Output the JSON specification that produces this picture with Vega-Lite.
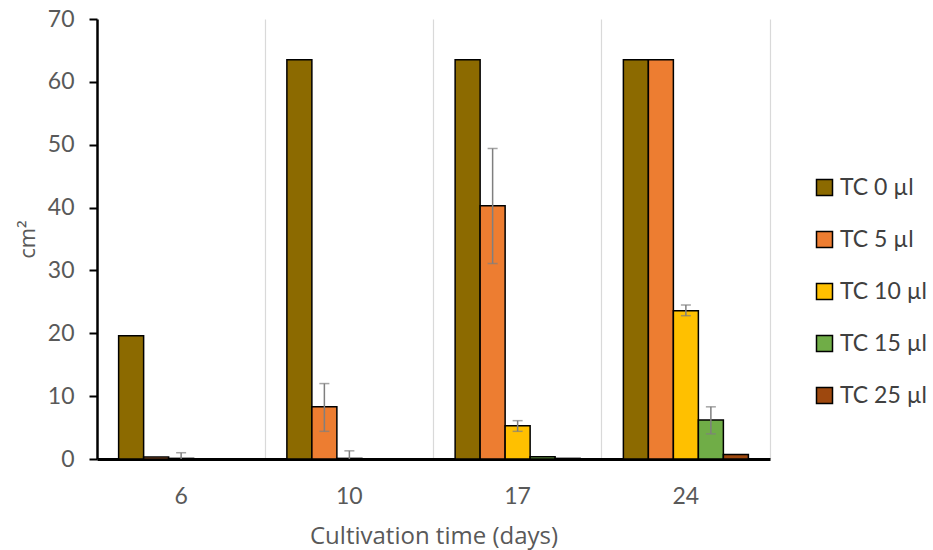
{
  "$schema": "https://vega.github.io/schema/vega-lite/v6.json",
  "width": 673,
  "height": 440,
  "autosize": {"type": "none"},
  "padding": {"left": 97, "top": 19, "right": 163, "bottom": 91},
  "background": "white",
  "config": {
    "view": {"stroke": null},
    "font": "Lato"
  },
  "data": {
    "values": [
      {"day": "6", "series": "TC 0 µl", "value": 19.6},
      {"day": "6", "series": "TC 5 µl", "value": 0.3},
      {"day": "6", "series": "TC 10 µl", "value": 0.1, "lo": 0, "hi": 1.0},
      {"day": "6", "series": "TC 15 µl", "value": 0},
      {"day": "6", "series": "TC 25 µl", "value": 0},
      {"day": "10", "series": "TC 0 µl", "value": 63.5},
      {"day": "10", "series": "TC 5 µl", "value": 8.3, "lo": 4.4, "hi": 12.0},
      {"day": "10", "series": "TC 10 µl", "value": 0.1, "lo": 0, "hi": 1.3},
      {"day": "10", "series": "TC 15 µl", "value": 0},
      {"day": "10", "series": "TC 25 µl", "value": 0},
      {"day": "17", "series": "TC 0 µl", "value": 63.5},
      {"day": "17", "series": "TC 5 µl", "value": 40.3, "lo": 31.1, "hi": 49.4},
      {"day": "17", "series": "TC 10 µl", "value": 5.3, "lo": 4.4, "hi": 6.1},
      {"day": "17", "series": "TC 15 µl", "value": 0.35},
      {"day": "17", "series": "TC 25 µl", "value": 0.1},
      {"day": "24", "series": "TC 0 µl", "value": 63.5},
      {"day": "24", "series": "TC 5 µl", "value": 63.5},
      {"day": "24", "series": "TC 10 µl", "value": 23.6, "lo": 22.8, "hi": 24.5},
      {"day": "24", "series": "TC 15 µl", "value": 6.2, "lo": 4.0, "hi": 8.3},
      {"day": "24", "series": "TC 25 µl", "value": 0.7}
    ]
  },
  "encoding": {
    "x": {
      "field": "day",
      "type": "ordinal",
      "sort": ["6", "10", "17", "24"],
      "scale": {"paddingInner": 0, "paddingOuter": 0},
      "axis": {
        "title": "Cultivation time (days)",
        "labelAngle": 0,
        "labelFontSize": 23,
        "labelColor": "#595959",
        "labelPadding": 26,
        "ticks": false,
        "domainColor": "black",
        "domainWidth": 3,
        "grid": true,
        "gridColor": "#d9d9d9",
        "gridWidth": 1.2,
        "bandPosition": 1,
        "titleFont": "Open Sans",
        "titleFontSize": 24,
        "titleFontWeight": "normal",
        "titleColor": "#595959",
        "titlePadding": 16
      }
    },
    "xOffset": {
      "field": "series",
      "type": "nominal",
      "sort": ["TC 0 µl", "TC 5 µl", "TC 10 µl", "TC 15 µl", "TC 25 µl"],
      "scale": {"paddingInner": 0, "paddingOuter": 0.865}
    }
  },
  "layer": [
    {
      "mark": {"type": "bar", "stroke": "black", "strokeWidth": 1.5},
      "encoding": {
        "y": {
          "field": "value",
          "type": "quantitative",
          "scale": {"domain": [0, 70]},
          "axis": {
            "title": "cm²",
            "values": [0, 10, 20, 30, 40, 50, 60, 70],
            "grid": false,
            "labelFontSize": 23,
            "labelColor": "#595959",
            "labelPadding": 15,
            "tickSize": 8,
            "tickColor": "black",
            "tickWidth": 2,
            "domainColor": "black",
            "domainWidth": 2.5,
            "titleFont": "Open Sans",
            "titleFontSize": 22,
            "titleFontWeight": "normal",
            "titleColor": "#595959",
            "titlePadding": 8
          }
        },
        "color": {
          "field": "series",
          "type": "nominal",
          "sort": ["TC 0 µl", "TC 5 µl", "TC 10 µl", "TC 15 µl", "TC 25 µl"],
          "scale": {
            "domain": ["TC 0 µl", "TC 5 µl", "TC 10 µl", "TC 15 µl", "TC 25 µl"],
            "range": ["#8C6A00", "#ED7D31", "#FFC000", "#70AD47", "#9E480E"]
          },
          "legend": {
            "title": null,
            "orient": "none",
            "legendX": 716,
            "legendY": 157,
            "symbolType": "square",
            "symbolSize": 256,
            "symbolStrokeColor": "black",
            "symbolStrokeWidth": 1.5,
            "labelFontSize": 23,
            "labelColor": "#404040",
            "labelOffset": 4,
            "rowPadding": 28
          }
        }
      }
    },
    {
      "transform": [{"filter": "isValid(datum.hi)"}],
      "mark": {"type": "rule", "color": "#7f7f7f", "strokeWidth": 1.5},
      "encoding": {
        "y": {"field": "lo", "type": "quantitative"},
        "y2": {"field": "hi"}
      }
    },
    {
      "transform": [{"filter": "isValid(datum.hi)"}],
      "mark": {"type": "tick", "color": "#7f7f7f", "thickness": 1.5, "size": 10},
      "encoding": {
        "y": {"field": "hi", "type": "quantitative"}
      }
    },
    {
      "transform": [{"filter": "isValid(datum.hi) && datum.lo > 0"}],
      "mark": {"type": "tick", "color": "#7f7f7f", "thickness": 1.5, "size": 10},
      "encoding": {
        "y": {"field": "lo", "type": "quantitative"}
      }
    }
  ]
}
